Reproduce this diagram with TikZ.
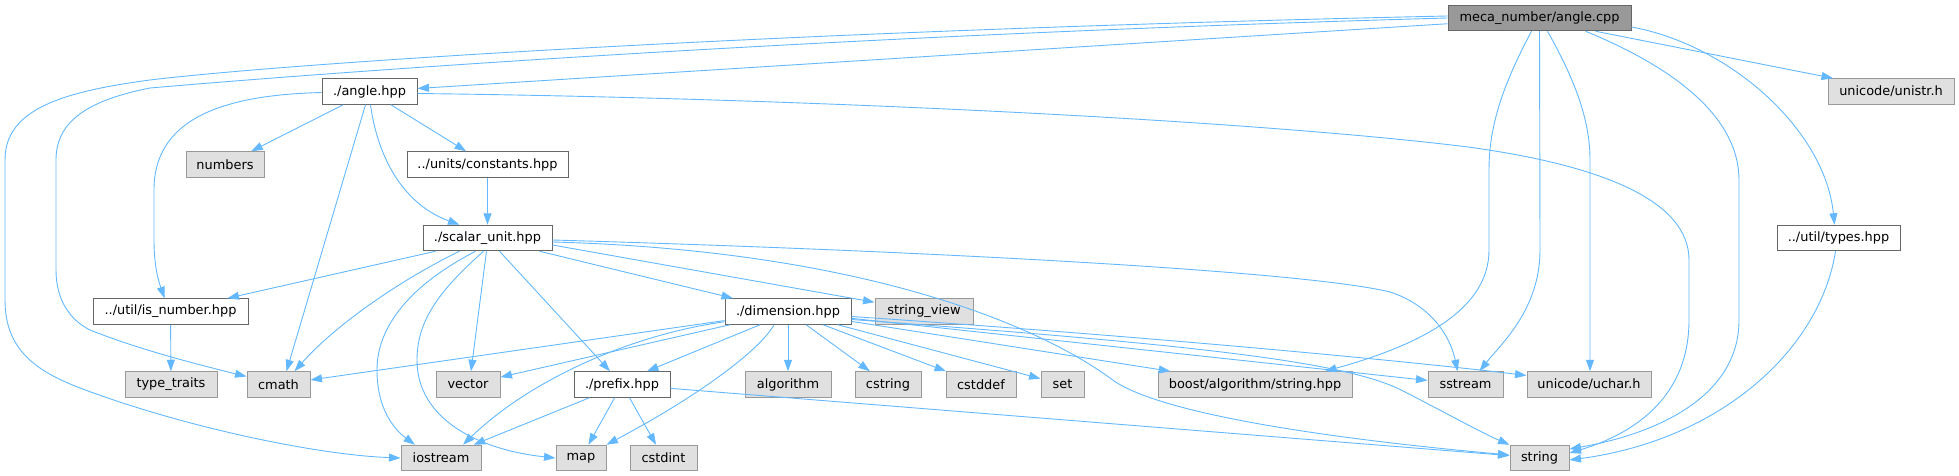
\documentclass[tikz,border=0pt]{standalone}
\usepackage{fontspec}
\setmainfont{DejaVu Sans}
\usetikzlibrary{arrows.meta}
\definecolor{edgeblue}{HTML}{63B8FF}
\definecolor{boxline}{HTML}{666666}
\definecolor{sysline}{HTML}{999999}
\definecolor{sysfill}{HTML}{E0E0E0}
\definecolor{rootfill}{HTML}{999999}

\begin{document}
\begin{tikzpicture}[x=1pt, y=-1pt,
    font=\fontsize{12.9}{15}\selectfont,
    srcbox/.style={draw=boxline, fill=white, line width=1pt,
      minimum height=25.5pt, inner sep=0pt},
    sysbox/.style={srcbox, draw=sysline, fill=sysfill},
    rootbox/.style={srcbox, fill=rootfill},
    dep/.style={draw=edgeblue, line width=0.9pt,
      -{Triangle[length=11.5pt,width=8pt]}}]
          \useasboundingbox (0,0) rectangle (1959,476);

          \node[rootbox, minimum width=183pt] (cpp) at (1539.5,18) {meca\_number/angle.cpp};
          \node[srcbox, minimum width=95pt] (anglehpp) at (369.5,91.5) {./angle.hpp};
          \node[sysbox, minimum width=126pt] (unistr) at (1891,91.5) {unicode/unistr.h};
          \node[sysbox, minimum width=78pt] (numbers) at (225,164.5) {numbers};
          \node[srcbox, minimum width=161pt] (constants) at (487.5,164.5) {../units/constants.hpp};
          \node[srcbox, minimum width=129pt] (scalar) at (487.5,238) {./scalar\_unit.hpp};
          \node[srcbox, minimum width=123pt] (types) at (1838.5,238) {../util/types.hpp};
          \node[srcbox, minimum width=155pt] (isnumber) at (170.5,311.5) {../util/is\_number.hpp};
          \node[srcbox, minimum width=126pt] (dimension) at (788,311.5) {./dimension.hpp};
          \node[sysbox, minimum width=98pt] (stringview) at (924,311.5) {string\_view};
          \node[sysbox, minimum width=92pt] (typetraits) at (171,384.5) {type\_traits};
          \node[sysbox, minimum width=63pt] (cmath) at (278.5,384.5) {cmath};
          \node[sysbox, minimum width=64pt] (vector) at (468,384.5) {vector};
          \node[srcbox, minimum width=96pt] (prefix) at (622,384.5) {./prefix.hpp};
          \node[sysbox, minimum width=86pt] (algorithm) at (788,384.5) {algorithm};
          \node[sysbox, minimum width=66pt] (cstring) at (888,384.5) {cstring};
          \node[sysbox, minimum width=70pt] (cstddef) at (981,384.5) {cstddef};
          \node[sysbox, minimum width=43pt] (set) at (1062.5,384.5) {set};
          \node[sysbox, minimum width=194pt] (boost) at (1255,384.5) {boost/algorithm/string.hpp};
          \node[sysbox, minimum width=75pt] (sstream) at (1465.5,384.5) {sstream};
          \node[sysbox, minimum width=124pt] (uchar) at (1589,384.5) {unicode/uchar.h};
          \node[sysbox, minimum width=80pt] (iostream) at (441,458) {iostream};
          \node[sysbox, minimum width=50pt] (map) at (581,458) {map};
          \node[sysbox, minimum width=67pt] (cstdint) at (663.5,458) {cstdint};
          \node[sysbox, minimum width=59pt] (string) at (1539.5,458) {string};

          \draw[dep] (cpp) -- (anglehpp);
          \draw[dep] ([yshift=2]cpp.west) .. controls (800,30) and (300,62) .. (150,80)
            .. controls (60,92) and (5,110) .. (5,160) -- (5,300)
            .. controls (5,360) and (50,378) .. (105,397)
            .. controls (200,430) and (320,455) .. (iostream.west);
          \draw[dep] (cpp.west) .. controls (800,36) and (300,75) .. (150,88)
            .. controls (90,100) and (56,120) .. (56,160) -- (56,270)
            .. controls (56,300) and (70,320) .. (90,330)
            .. controls (140,350) and (200,365) .. ([yshift=8]cmath.west);
          \draw[dep] ([xshift=-8]cpp.south) .. controls (1500,90) and (1489,130) .. (1489,170)
            -- (1489,250) .. controls (1489,310) and (1420,345) .. ([xshift=70]boost.north);
          \draw[dep] (cpp.south) -- (1540,250)
            .. controls (1540,310) and (1500,345) .. ([xshift=14]sstream.north);
          \draw[dep] ([xshift=8]cpp.south) .. controls (1575,80) and (1590,120) .. (1590,160)
            -- ([xshift=1]uchar.north);
          \draw[dep] ([xshift=46]cpp.south) .. controls (1680,70) and (1739,120) .. (1739,180)
            -- (1739,320) .. controls (1739,400) and (1650,435) .. ([yshift=9]string.east);
          \draw[dep] ([xshift=56]cpp.south) -- ([xshift=-58]unistr.north);
          \draw[dep] ([yshift=-9]cpp.east) .. controls (1730,45) and (1825,130) .. ([xshift=-4]types.north);

          \draw[dep] (anglehpp) -- (numbers);
          \draw[dep] (anglehpp) -- (constants);
          \draw[dep] ([xshift=1]anglehpp.south) .. controls (378,160) and (405,205) .. ([xshift=-28]scalar.north);
          \draw[dep] ([yshift=-1]anglehpp.west) .. controls (220,95) and (154,120) .. (154,190)
            -- (154,240) .. controls (154,270) and (160,285) .. ([xshift=-6]isnumber.north);
          \draw[dep] ([xshift=-4]anglehpp.south) -- ([xshift=8]cmath.north);
          \draw[dep] ([yshift=-2]anglehpp.east) .. controls (800,98) and (1250,120) .. (1468,147)
            .. controls (1600,165) and (1689,200) .. (1689,260) -- (1689,320)
            .. controls (1689,400) and (1630,435) .. ([yshift=5]string.east);
          \draw[dep] (constants) -- (scalar);

          \draw[dep] ([xshift=-52]scalar.south) -- ([xshift=57]isnumber.north);
          \draw[dep] ([xshift=-28]scalar.south) .. controls (410,275) and (340,320) .. ([xshift=16]cmath.north);
          \draw[dep] ([xshift=-12]scalar.south) .. controls (420,280) and (377,320) .. (377,370)
            .. controls (377,410) and (395,430) .. ([xshift=-26]iostream.north);
          \draw[dep] ([xshift=-4]scalar.south) .. controls (440,290) and (417,320) .. (417,360)
            .. controls (417,420) and (480,450) .. (map.west);
          \draw[dep] ([xshift=-1]scalar.south) -- ([xshift=3]vector.north);
          \draw[dep] ([xshift=12]scalar.south) -- ([xshift=-12]prefix.north);
          \draw[dep] ([xshift=52]scalar.south) -- ([xshift=-55]dimension.north);
          \draw[dep] ([yshift=-7]scalar.east) -- ([yshift=-4]stringview.north west);
          \draw[dep] ([yshift=-4]scalar.east) .. controls (850,250) and (1030,320) .. (1110,378)
            .. controls (1150,410) and (1300,436) .. ([yshift=3]string.west);
          \draw[dep] ([yshift=-2]scalar.east) .. controls (900,250) and (1300,270) .. (1390,292)
            .. controls (1430,305) and (1450,335) .. ([xshift=-8]sstream.north);
          \draw[dep] (isnumber) -- (typetraits);

          \draw[dep] (dimension) -- (cmath);
          \draw[dep] (dimension) -- (vector);
          \draw[dep] ([yshift=3]dimension.south west) .. controls (630,335) and (530,380) .. ([xshift=22]iostream.north);
          \draw[dep] ([xshift=-28]dimension.south) -- ([xshift=25]prefix.north);
          \draw[dep] ([xshift=-14]dimension.south) .. controls (760,350) and (700,395) .. (map.north east);
          \draw[dep] (dimension) -- (algorithm);
          \draw[dep] (dimension) -- (cstring);
          \draw[dep] (dimension) -- (cstddef);
          \draw[dep] (dimension) -- (set);
          \draw[dep] (dimension) -- (boost);
          \draw[dep] (dimension) -- (sstream);
          \draw[dep] ([yshift=-5]dimension.east) .. controls (1200,340) and (1450,366) .. ([yshift=9]uchar.west);
          \draw[dep] ([yshift=-8]dimension.east) .. controls (1200,345) and (1350,362) .. (1405,392)
            .. controls (1450,415) and (1480,432) .. (string.north west);

          \draw[dep] (prefix) -- (iostream);
          \draw[dep] (prefix) -- (map);
          \draw[dep] (prefix) -- (cstdint);
          \draw[dep] (prefix) -- (string);
          \draw[dep] ([xshift=-3]types.south) .. controls (1820,350) and (1720,440) .. ([yshift=-2]string.east);
        \end{tikzpicture}
\end{document}
